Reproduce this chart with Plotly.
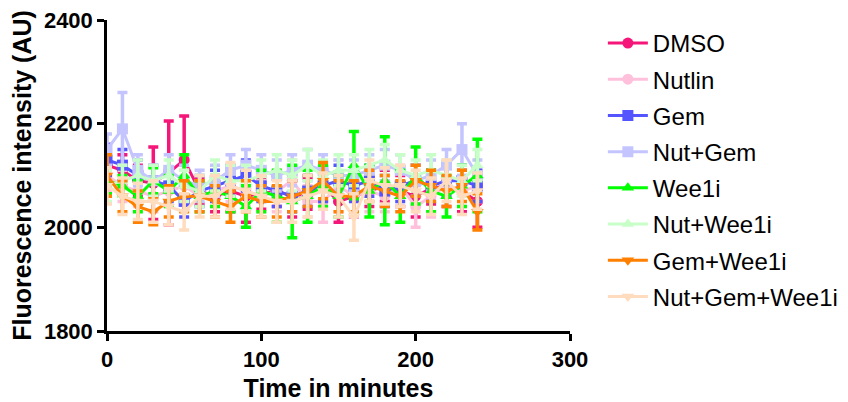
import plotly.graph_objects as go

time_min = list(range(0, 250, 10))

series_names = ["DMSO", "Nutlin", "Gem", "Nut+Gem", "Wee1i", "Nut+Wee1i", "Gem+Wee1i", "Nut+Gem+Wee1i"]

dmso = [2120, 2110, 2090, 2085, 2105, 2130, 2070, 2060, 2070, 2060, 2065, 2070, 2060, 2065, 2080, 2050, 2060, 2070, 2080, 2070, 2060, 2075, 2080, 2070, 2050]
dmso_err = [40, 30, 30, 70, 100, 85, 25, 30, 40, 50, 30, 30, 40, 30, 30, 40, 40, 30, 30, 30, 40, 30, 40, 40, 50]

nutlin = [2100, 2080, 2070, 2060, 2070, 2080, 2060, 2070, 2080, 2070, 2060, 2070, 2090, 2050, 2050, 2080, 2060, 2070, 2060, 2080, 2040, 2060, 2080, 2070, 2080]
nutlin_err = [30, 30, 30, 30, 30, 30, 30, 30, 30, 30, 30, 40, 40, 30, 40, 50, 40, 40, 30, 40, 40, 40, 40, 30, 30]

gem = [2130, 2120, 2100, 2090, 2080, 2050, 2070, 2080, 2090, 2100, 2080, 2070, 2060, 2070, 2080, 2090, 2080, 2090, 2070, 2080, 2090, 2080, 2090, 2090, 2080]
gem_err = [30, 30, 30, 30, 30, 30, 30, 30, 30, 30, 30, 30, 30, 30, 30, 30, 30, 30, 30, 30, 30, 30, 30, 30, 30]

nut_gem = [2150, 2190, 2110, 2090, 2110, 2090, 2080, 2090, 2110, 2120, 2110, 2100, 2110, 2120, 2110, 2100, 2100, 2110, 2120, 2110, 2090, 2100, 2120, 2150, 2100]
nut_gem_err = [30, 70, 30, 30, 30, 30, 30, 30, 30, 30, 30, 30, 30, 30, 30, 30, 30, 30, 30, 30, 30, 30, 30, 50, 30]

wee1i = [2090, 2080, 2060, 2090, 2070, 2100, 2060, 2070, 2060, 2040, 2070, 2060, 2050, 2060, 2080, 2060, 2120, 2070, 2090, 2060, 2100, 2070, 2060, 2080, 2100]
wee1i_err = [25, 20, 30, 25, 30, 40, 30, 30, 30, 40, 40, 50, 70, 50, 40, 40, 65, 50, 85, 50, 55, 40, 40, 40, 70]

nut_wee1i = [2080, 2090, 2100, 2090, 2100, 2080, 2070, 2100, 2090, 2090, 2100, 2110, 2100, 2120, 2100, 2110, 2110, 2120, 2130, 2110, 2100, 2110, 2100, 2090, 2120]
nut_wee1i_err = [30, 30, 30, 30, 30, 30, 30, 30, 30, 30, 30, 30, 30, 30, 30, 30, 30, 30, 30, 30, 30, 30, 30, 30, 30]

gem_wee1i = [2100, 2060, 2040, 2030, 2050, 2060, 2060, 2050, 2040, 2060, 2050, 2050, 2060, 2070, 2090, 2060, 2060, 2080, 2070, 2060, 2090, 2080, 2070, 2080, 2030]
gem_wee1i_err = [40, 30, 30, 25, 30, 30, 30, 30, 30, 30, 30, 30, 30, 30, 35, 30, 30, 30, 30, 30, 30, 30, 30, 30, 35]

nut_gem_wee1i = [2080, 2060, 2050, 2050, 2040, 2030, 2060, 2060, 2080, 2070, 2060, 2050, 2050, 2060, 2070, 2060, 2020, 2090, 2080, 2080, 2070, 2060, 2090, 2060, 2070]
nut_gem_wee1i_err = [35, 35, 35, 40, 35, 35, 40, 40, 45, 40, 40, 40, 40, 40, 35, 40, 45, 40, 35, 40, 40, 35, 40, 35, 35]

values = [dmso, nutlin, gem, nut_gem, wee1i, nut_wee1i, gem_wee1i, nut_gem_wee1i]
errors = [dmso_err, nutlin_err, gem_err, nut_gem_err, wee1i_err, nut_wee1i_err, gem_wee1i_err, nut_gem_wee1i_err]
colors = ["#F5167A", "#FFC0DC", "#5555FF", "#C4C4FF", "#00FF00", "#C8FFC8", "#FF8000", "#FFDCBE"]
symbols = ["circle", "circle", "square", "square", "triangle-up", "triangle-up", "triangle-down", "triangle-down"]

fig = go.Figure()
for name, vals, errs, col, sym in zip(series_names, values, errors, colors, symbols):
    fig.add_trace(go.Scatter(
        x=time_min, y=vals, name=name, mode="lines+markers",
        legendgroup=name,
        line=dict(color=col, width=3),
        marker=dict(color=col, symbol=sym, size=11),
        error_y=dict(type="data", array=errs, visible=True, color=col, thickness=3.5, width=5),
    ))

axis_font = dict(family="Arial, Liberation Sans", size=22, color="black", weight="bold")
title_font = dict(family="Arial, Liberation Sans", size=25, color="black", weight="bold")

fig.update_layout(
    width=870, height=394,
    margin=dict(l=99, r=308, t=12, b=71),
    paper_bgcolor="white", plot_bgcolor="white",
    font=dict(family="Arial, Liberation Sans", color="black"),
    xaxis=dict(range=[0, 300], tickvals=[0, 100, 200, 300], showline=True, linecolor="black", linewidth=2.5,
               ticks="outside", ticklen=7, tickwidth=2.5, tickcolor="black", showgrid=False, zeroline=False,
               automargin=False, ticklabeloverflow="allow",
               tickfont=axis_font, title=dict(text="Time in minutes", font=title_font, standoff=10)),
    yaxis=dict(range=[1800, 2400], tickvals=[1800, 2000, 2200, 2400], showline=True, linecolor="black", linewidth=2.5,
               ticks="outside", ticklen=7, tickwidth=2.5, tickcolor="black", showgrid=False, zeroline=False,
               automargin=False, ticklabeloverflow="allow",
               tickfont=axis_font, title=dict(text="Fluorescence intensity (AU)", font=title_font, standoff=8)),
    legend=dict(x=1.071, xanchor="left", y=0.997, yanchor="top", tracegroupgap=2,
                font=dict(family="Arial, Liberation Sans", size=24, color="black"),
                bgcolor="rgba(0,0,0,0)", itemwidth=40),
    showlegend=True,
)

fig.write_html("out.html")
